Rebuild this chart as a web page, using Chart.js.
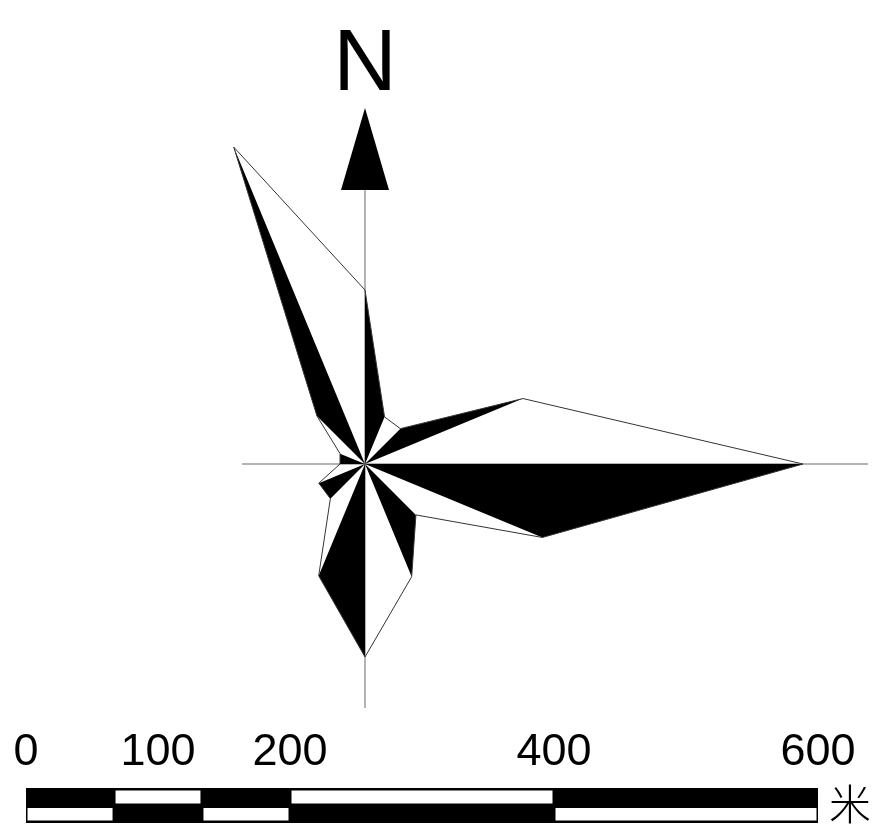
<!DOCTYPE html>
<html>
<head>
<meta charset="utf-8">
<script src="https://cdn.jsdelivr.net/npm/chart.js@4"></script>
<style>
  html, body { margin: 0; padding: 0; background: #fff; }
  canvas { display: block; }
</style>
</head>
<body>
<canvas id="rose" width="873" height="829"></canvas>
<script>
// 16 wind directions, clockwise from north
const directions = ['N', 'NNE', 'NE', 'ENE', 'E', 'ESE', 'SE', 'SSE', 'S', 'SSW', 'SW', 'WSW', 'W', 'WNW', 'NW', 'NNW'];
const frequency = [17.4, 5.1, 5.0, 17.1, 43.8, 19.2, 7.2, 12.2, 19.3, 12.1, 4.9, 5.0, 2.5, 2.7, 6.8, 34.3];

// scale bar
const scaleBarTicks = [0, 100, 200, 400, 600];
const scaleBarBreaks = [0, 66.7, 133.3, 200, 400, 600];
const scaleBarUnit = '米';

// where the rose sits on the page (not the middle of the chart area)
const ROSE_X = 365, ROSE_Y = 464;

// black half of each petal: sector between direction i and i+1, every other sector
const sectors = [];
for (let i = 0; i < directions.length; i += 2) {
    sectors.push({
        data: frequency.map((v, k) => (k === i || k === (i + 1) % directions.length) ? v : 0),
        fill: 'origin',
        backgroundColor: '#000',
        borderWidth: 0,
        pointRadius: 0,
        clip: false,
        order: 2
    });
}

const roseAxes = {
    id: 'roseAxes',
    beforeDatasetsDraw(chart) {
        const s = chart.scales.r;
        const ctx = chart.ctx;
        ctx.save();
        ctx.strokeStyle = '#9a9a9a';
        ctx.lineWidth = 1.5;
        ctx.beginPath();
        ctx.moveTo(s.xCenter - 123, s.yCenter);
        ctx.lineTo(s.xCenter + 503, s.yCenter);
        ctx.moveTo(s.xCenter, s.yCenter - 274);
        ctx.lineTo(s.xCenter, s.yCenter + 244);
        ctx.stroke();
        ctx.restore();
    }
};

const decorations = {
    id: 'decorations',
    afterDraw(chart) {
        const ctx = chart.ctx;
        const cx = chart.scales.r.xCenter;
        ctx.save();

        // north arrow
        ctx.fillStyle = '#000';
        ctx.beginPath();
        ctx.moveTo(cx, 108);
        ctx.lineTo(cx - 24, 190);
        ctx.lineTo(cx + 24, 190);
        ctx.closePath();
        ctx.fill();
        ctx.font = '88px "Liberation Sans", Arial, sans-serif';
        ctx.textAlign = 'center';
        ctx.textBaseline = 'alphabetic';
        ctx.fillText('N', cx, 90);

        // scale bar
        const left = 26, right = 818, top = 788, bottom = 823, mid = 805.5;
        const maxV = scaleBarTicks[scaleBarTicks.length - 1];
        const px = v => left + v / maxV * (right - left);
        ctx.fillRect(left, top, right - left, bottom - top);
        ctx.fillStyle = '#fff';
        for (let j = 0; j < scaleBarBreaks.length - 1; j++) {
            const x0 = px(scaleBarBreaks[j]) + 1.5;
            const x1 = px(scaleBarBreaks[j + 1]) - 1.5;
            if (j % 2 === 1) ctx.fillRect(x0, top + 2.5, x1 - x0, mid - 2 - (top + 2.5));
            else ctx.fillRect(x0, mid + 2.5, x1 - x0, bottom - 2.5 - (mid + 2.5));
        }
        ctx.fillStyle = '#000';
        ctx.font = '45px "Liberation Sans", Arial, sans-serif';
        scaleBarTicks.forEach(v => ctx.fillText(String(v), px(v), 765));
        ctx.font = '300 42px "Noto Sans CJK SC", sans-serif';
        ctx.textAlign = 'left';
        ctx.textBaseline = 'middle';
        ctx.fillText(scaleBarUnit, 829, 804);
        ctx.restore();
    }
};

new Chart(document.getElementById('rose'), {
    type: 'radar',
    data: {
        labels: directions,
        datasets: [
            {
                data: frequency,
                fill: false,
                borderColor: '#333',
                borderWidth: 1,
                pointRadius: 0,
                clip: false,
                order: 1
            },
            ...sectors
        ]
    },
    options: {
        responsive: false,
        animation: false,
        events: [],
        layout: {
            // chart area 720px tall -> radius 360px for r = 36
            padding: { left: 0, right: 0, top: 54, bottom: 55 }
        },
        elements: {
            line: { tension: 0 }
        },
        plugins: {
            legend: { display: false },
            tooltip: { enabled: false }
        },
        scales: {
            r: {
                min: 0,
                max: 36,
                grid: { display: false },
                angleLines: { display: false },
                ticks: { display: false },
                pointLabels: { display: false },
                afterFit(scale) {
                    // rose is off-centre in the picture
                    scale.xCenter = ROSE_X;
                    scale.yCenter = ROSE_Y;
                }
            }
        }
    },
    plugins: [roseAxes, decorations]
});
</script>
</body>
</html>
